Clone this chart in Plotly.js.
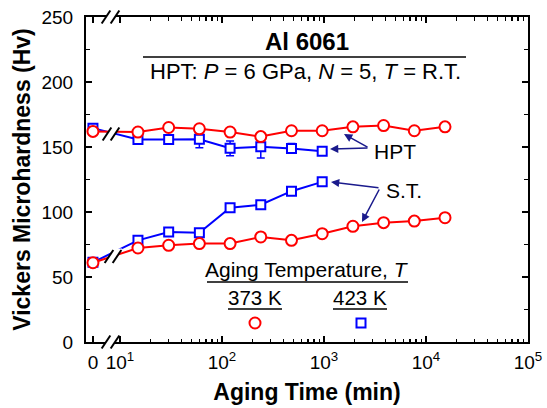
<!DOCTYPE html>
<html>
<head>
<meta charset="utf-8">
<script src="https://cdn.plot.ly/plotly-3.0.1.min.js"></script>
<style>html,body{margin:0;padding:0;background:#fff}#chart{width:547px;height:408px}</style>
</head>
<body>
<div id="chart"></div>
<script>
// ---------- data ----------
var timesFull = [5.43, 15, 30, 60, 120, 240, 480, 960, 1920, 3840, 7680, 15360]; // first value = "0" position
var times423 = [5.43, 15, 30, 60, 120, 240, 480, 960];
var hpt373 = [162, 161.5, 165, 164, 161.5, 158, 162.5, 162.5, 165.5, 166.5, 162.5, 165.5];
var hpt423 = [164.5, 155.7, 155.7, 155.9, 149, 150.2, 148.9, 146.7];
var hpt423err = [0, 0, 0, 6.4, 5.7, 8.7, 3.8, 0];
var st373 = [61, 72.3, 74.4, 75.7, 75.7, 80.8, 78.2, 83.3, 89, 91.8, 93, 95.6];
var st423 = [61.3, 78.2, 84.6, 84, 103.3, 105.6, 116, 123.2];
var xTickVals = [5.43, 10, 100, 1000, 10000, 100000];
var xTickText = ['0', '10<sup>1</sup>', '10<sup>2</sup>', '10<sup>3</sup>', '10<sup>4</sup>', '10<sup>5</sup>'];
var xMinorVals = [];
[10, 100, 1000, 10000].forEach(function (d) { for (var k = 2; k <= 9; k++) xMinorVals.push(k * d); });

// ---------- geometry helpers (pixel -> paper) ----------
var L = 86, R = 19, T = 17, B = 66, W = 547, H = 408;
var PW = W - L - R, PH = H - T - B;
function px(x) { return (x - L) / PW; }
function py(y) { return (H - B - y) / PH; }

var RED = '#ff0000', BLUE = '#0000ff', FONT = 'Liberation Sans, Arial, sans-serif';

var traces = [
  { x: times423, y: hpt423, type: 'scatter', mode: 'lines+markers',
    line: { color: BLUE, width: 2 },
    marker: { symbol: 'square', size: 9, color: '#fff', line: { color: BLUE, width: 2 } },
    error_y: { type: 'data', array: hpt423err, visible: true, color: BLUE, thickness: 1.5, width: 4 } },
  { x: times423, y: st423, type: 'scatter', mode: 'lines+markers',
    line: { color: BLUE, width: 2 },
    marker: { symbol: 'square', size: 9, color: '#fff', line: { color: BLUE, width: 2 } } },
  { x: timesFull, y: hpt373, type: 'scatter', mode: 'lines+markers',
    line: { color: RED, width: 2 },
    marker: { symbol: 'circle', size: 11, color: '#fff', line: { color: RED, width: 2 } } },
  { x: timesFull, y: st373, type: 'scatter', mode: 'lines+markers',
    line: { color: RED, width: 2 },
    marker: { symbol: 'circle', size: 11, color: '#fff', line: { color: RED, width: 2 } } },
  // legend keys on an overlay axis
  { x: [px(255)], y: [py(323)], xaxis: 'x2', yaxis: 'y2', type: 'scatter', mode: 'markers',
    marker: { symbol: 'circle', size: 11, color: '#fff', line: { color: RED, width: 2 } } },
  { x: [px(361)], y: [py(323)], xaxis: 'x2', yaxis: 'y2', type: 'scatter', mode: 'markers',
    marker: { symbol: 'square', size: 9, color: '#fff', line: { color: BLUE, width: 2 } } }
];

// ---------- shapes ----------
var shapes = [];
function line(x0, y0, x1, y1, w) {
  shapes.push({ type: 'line', xref: 'paper', yref: 'paper', x0: px(x0), y0: py(y0), x1: px(x1), y1: py(y1),
    line: { color: '#000', width: w || 1.5 }, layer: 'above' });
}
function brk(c1, c2, cy, h, sh) {
  var d = 4 * h / 6;
  var p = 'M' + px(c1 - d) + ',' + py(cy + h) + ' L' + px(c2 - d) + ',' + py(cy + h) +
          ' L' + px(c2 + d) + ',' + py(cy - h) + ' L' + px(c1 + d) + ',' + py(cy - h) + ' Z';
  shapes.push({ type: 'path', xref: 'paper', yref: 'paper', path: p, fillcolor: '#fff',
    line: { width: 0 }, layer: 'above' });
  var s = sh || 6, e = 4 * s / 6;
  line(c1 - e, cy + s, c1 + e, cy - s, 2);
  line(c2 - e, cy + s, c2 + e, cy - s, 2);
}
brk(106, 115, 342, 3, 6.5);
brk(106, 115, 17, 3, 6.5);
brk(107, 115, 134, 7, 6.5);
brk(109, 117, 256.5, 8, 6.5);
// title underline and legend underlines
line(143, 57, 466, 57, 1.5);
line(207, 282, 408, 282, 1.5);
line(228, 309, 282, 309, 1.5);
line(333, 309, 387, 309, 1.5);

// ---------- annotations ----------
function txt(x, y, t, size, bold) {
  return { xref: 'paper', yref: 'paper', x: px(x), y: py(y), text: bold ? '<b>' + t + '</b>' : t,
    showarrow: false, xanchor: 'center', yanchor: 'middle',
    font: { family: FONT, size: size, color: '#000' } };
}
function arr(hx, hy, tx, ty) {
  return { xref: 'paper', yref: 'paper', x: px(hx), y: py(hy), ax: tx - hx, ay: ty - hy, text: '',
    showarrow: true, arrowhead: 2, arrowsize: 1.1, arrowwidth: 1.5, arrowcolor: '#1a1a8c', standoff: 0, startstandoff: 0 };
}
var annotations = [
  txt(307, 42, 'Al 6061', 24, true),
  txt(305, 71, 'HPT: <i>P</i> = 6 GPa, <i>N</i> = 5, <i>T</i> = R.T.', 22, false),
  txt(395, 151, 'HPT', 21, false),
  txt(404, 190, 'S.T.', 21, false),
  txt(307, 269, 'Aging Temperature, <i>T</i>', 21, false),
  txt(255, 297, '373 K', 20.5, false),
  txt(360, 297, '423 K', 20.5, false),
  arr(344, 134, 369, 148),
  arr(330, 149, 369, 148),
  arr(331, 182, 380, 188),
  arr(362, 222, 380, 188)
];

var layout = {
  width: W, height: H,
  margin: { l: L, r: R, t: T, b: B, pad: 0 },
  paper_bgcolor: '#fff', plot_bgcolor: '#fff',
  showlegend: false,
  font: { family: FONT, size: 19, color: '#000' },
  xaxis: {
    type: 'log', range: [Math.log10(10) - (120 - 86) / 102, 5],
    tickmode: 'array', tickvals: xTickVals, ticktext: xTickText,
    ticks: 'inside', ticklen: 6, tickwidth: 2, tickcolor: '#000',
    minor: { tickmode: 'array', tickvals: xMinorVals, ticks: 'inside', ticklen: 3.5, tickwidth: 1.5, tickcolor: '#000' },
    showline: true, linecolor: '#000', linewidth: 2, mirror: 'ticks',
    showgrid: false, zeroline: false, ticklabelstandoff: 2,
    tickfont: { family: FONT, size: 19, color: '#000' },
    title: { text: '<b>Aging Time (min)</b>', font: { family: FONT, size: 23, color: '#000' }, standoff: 12 }
  },
  yaxis: {
    range: [0, 250], tickmode: 'linear', tick0: 0, dtick: 50,
    ticks: 'inside', ticklen: 6, tickwidth: 2, tickcolor: '#000',
    minor: { dtick: 25, ticks: 'inside', ticklen: 4, tickwidth: 1.5, tickcolor: '#000' },
    showline: true, linecolor: '#000', linewidth: 2, mirror: 'ticks',
    showgrid: false, zeroline: false, ticklabelstandoff: 7,
    tickfont: { family: FONT, size: 19, color: '#000' },
    title: { text: '<b>Vickers Microhardness (Hv)</b>', font: { family: FONT, size: 23, color: '#000' }, standoff: 4 }
  },
  xaxis2: { overlaying: 'x', range: [0, 1], visible: false, fixedrange: true },
  yaxis2: { overlaying: 'y', range: [0, 1], visible: false, fixedrange: true },
  shapes: shapes,
  annotations: annotations
};

Plotly.newPlot('chart', traces, layout, { displayModeBar: false, staticPlot: true });
</script>
</body>
</html>
